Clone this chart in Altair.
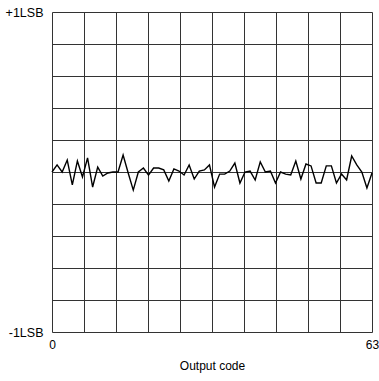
import altair as alt
import pandas as pd

codes = list(range(64))
error_lsb = [
    0.0, 0.044, 0.0, 0.075, -0.081, 0.069, -0.031, 0.088, -0.094, 0.031,
    -0.025, -0.006, 0.0, 0.0, 0.106, -0.006, -0.113, 0.0, 0.025, -0.019,
    0.025, 0.025, 0.013, -0.056, 0.019, 0.006, -0.019, 0.044, -0.044, 0.006,
    0.013, 0.044, -0.094, -0.013, -0.013, 0.006, 0.056, -0.069, 0.0, 0.006,
    -0.05, 0.063, 0.0, 0.006, -0.069, 0.0, -0.013, -0.019, 0.069, -0.044,
    0.05, 0.038, -0.069, -0.069, 0.038, 0.038, -0.069, -0.013, -0.05, 0.1,
    0.044, 0.0, -0.1, -0.006,
]
x_grid = [0, 6.3, 12.6, 18.9, 25.2, 31.5, 37.8, 44.1, 50.4, 56.7, 63]
y_grid = [-1, -0.8, -0.6, -0.4, -0.2, 0, 0.2, 0.4, 0.6, 0.8, 1]

df = pd.DataFrame({"code": codes, "err": error_lsb})

font = "Liberation Sans"

chart = alt.Chart(df).mark_line(color="black", strokeWidth=1.4).encode(
    x=alt.X("code:Q", scale=alt.Scale(domain=[0, 63], nice=False, zero=False),
            axis=alt.Axis(values=x_grid, title="Output code",
                          labelExpr="datum.value == 0 ? '0' : (datum.value == 63 ? '63' : '')",
                          grid=True, gridColor="#333", gridWidth=1, gridOpacity=1,
                          ticks=False, domain=False, labelFlush=False,
                          labelPadding=7, labelFontSize=12, labelFont=font, labelColor="black",
                          labelOverlap=False, labelBound=False,
                          titleFont=font, titleFontSize=12, titleFontWeight="normal",
                          titleColor="black", titlePadding=10)),
    y=alt.Y("err:Q", scale=alt.Scale(domain=[-1, 1], nice=False, zero=False),
            axis=alt.Axis(values=y_grid, title=None,
                          labelExpr="datum.value == 1 ? '+1LSB' : (datum.value == -1 ? '-1LSB' : '')",
                          grid=True, gridColor="#333", gridWidth=1, gridOpacity=1,
                          ticks=False, domain=False,
                          labelPadding=9, labelFontSize=12.5, labelFont=font, labelColor="black",
                          labelOverlap=False, labelBound=False, labelFlush=False,
                          labelBaseline="middle")),
).properties(
    width=320, height=320, autosize="none",
    padding={"left": 52, "top": 12, "right": 7, "bottom": 49},
).configure_view(stroke="black", strokeWidth=1.2).configure(background="white")

chart.save("out.html", embed_options={"renderer": "svg", "actions": False})
